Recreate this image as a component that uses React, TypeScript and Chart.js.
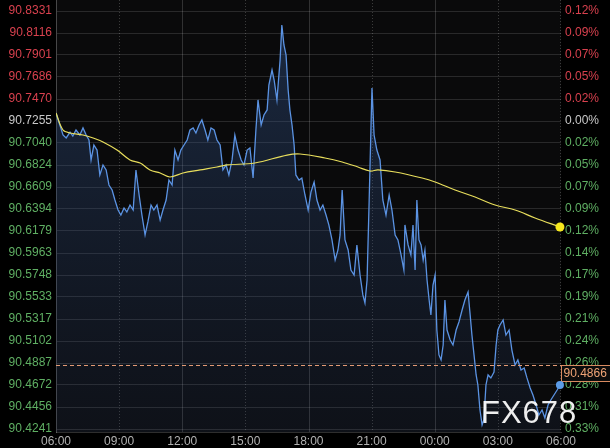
import { useEffect, useRef } from 'react';
import { Chart, registerables } from 'chart.js';

Chart.register(...registerables);

const xTickMinutes = [0, 180, 360, 540, 720, 900, 1080, 1260, 1440];
const xTickLabels = ['06:00', '09:00', '12:00', '15:00', '18:00', '21:00', '00:00', '03:00', '06:00'];

const priceTicks = [90.8331, 90.8116, 90.7901, 90.7686, 90.747, 90.7255, 90.704, 90.6824, 90.6609, 90.6394, 90.6179, 90.5963, 90.5748, 90.5533, 90.5317, 90.5102, 90.4887, 90.4672, 90.4456, 90.4241];
const priceTickLabels = ['90.8331', '90.8116', '90.7901', '90.7686', '90.7470', '90.7255', '90.7040', '90.6824', '90.6609', '90.6394', '90.6179', '90.5963', '90.5748', '90.5533', '90.5317', '90.5102', '90.4887', '90.4672', '90.4456', '90.4241'];
const pctTickLabels = ['0.12%', '0.09%', '0.07%', '0.05%', '0.02%', '0.00%', '0.02%', '0.05%', '0.07%', '0.09%', '0.12%', '0.14%', '0.17%', '0.19%', '0.21%', '0.24%', '0.26%', '0.28%', '0.31%', '0.33%'];

const refPrice = 90.7255;
const lastPrice = 90.4866;
const lastPriceLabel = '90.4866';
const priceMin = 90.4212;
const priceMax = 90.8439;

// minutes since 06:00
const times = [0, 11, 20, 29, 40, 48, 57, 68, 77, 86, 94, 100, 108, 117, 125, 134, 143, 151, 160, 168, 177, 185, 194, 202, 211, 220, 228, 237, 245, 254, 262, 271, 279, 288, 297, 305, 314, 322, 331, 339, 348, 356, 365, 374, 382, 391, 399, 408, 416, 425, 433, 442, 451, 459, 468, 476, 485, 493, 502, 510, 519, 528, 536, 545, 553, 562, 570, 576, 585, 593, 602, 607, 616, 622, 630, 639, 644, 650, 656, 662, 667, 673, 679, 684, 693, 701, 710, 719, 727, 736, 744, 753, 761, 770, 778, 787, 796, 804, 810, 816, 824, 833, 841, 850, 858, 867, 875, 881, 887, 893, 898, 901, 907, 915, 924, 932, 941, 950, 958, 967, 975, 984, 992, 995, 1004, 1012, 1018, 1024, 1029, 1035, 1041, 1047, 1052, 1058, 1064, 1069, 1075, 1081, 1086, 1092, 1098, 1104, 1109, 1115, 1124, 1132, 1141, 1149, 1158, 1166, 1175, 1181, 1186, 1192, 1198, 1203, 1209, 1215, 1220, 1226, 1232, 1240, 1249, 1255, 1260, 1266, 1275, 1283, 1292, 1300, 1309, 1317, 1326, 1335, 1343, 1352, 1360, 1369, 1377, 1386, 1394, 1403, 1411, 1420, 1429, 1437];
const prices = [90.7333, 90.7216, 90.7118, 90.7089, 90.7147, 90.7108, 90.7167, 90.7118, 90.7187, 90.7118, 90.7069, 90.6874, 90.702, 90.6971, 90.6727, 90.6825, 90.6776, 90.6629, 90.658, 90.6482, 90.6384, 90.6335, 90.6404, 90.6365, 90.6433, 90.6384, 90.6776, 90.6531, 90.6335, 90.614, 90.6267, 90.6433, 90.6384, 90.6433, 90.6286, 90.6384, 90.6482, 90.6678, 90.6629, 90.6971, 90.6874, 90.6971, 90.702, 90.7069, 90.7167, 90.7187, 90.7138, 90.7216, 90.7265, 90.7167, 90.7069, 90.7187, 90.7167, 90.7069, 90.702, 90.6776, 90.6825, 90.6727, 90.6874, 90.7118, 90.6971, 90.6874, 90.6825, 90.6971, 90.6991, 90.6697, 90.7167, 90.7461, 90.7216, 90.7314, 90.7363, 90.7607, 90.7754, 90.7656, 90.7461, 90.7852, 90.8194, 90.7999, 90.7901, 90.7558, 90.7363, 90.7216, 90.702, 90.6727, 90.6678, 90.6697, 90.6531, 90.6384, 90.656, 90.6658, 90.6482, 90.6384, 90.6433, 90.6335, 90.6238, 90.6091, 90.5895, 90.5993, 90.614, 90.658, 90.6091, 90.5993, 90.5797, 90.5748, 90.6042, 90.5748, 90.5553, 90.5474, 90.5699, 90.6482, 90.7167, 90.7578, 90.7118, 90.6971, 90.6874, 90.6482, 90.6335, 90.6531, 90.6384, 90.614, 90.6091, 90.5944, 90.5797, 90.6238, 90.6042, 90.5944, 90.6238, 90.5797, 90.6482, 90.6091, 90.6042, 90.5895, 90.5993, 90.5699, 90.5504, 90.5357, 90.565, 90.5748, 90.521, 90.4966, 90.4917, 90.5063, 90.5504, 90.521, 90.5112, 90.5063, 90.521, 90.5288, 90.5406, 90.5504, 90.5582, 90.5357, 90.5161, 90.4966, 90.477, 90.4672, 90.4427, 90.4281, 90.433, 90.4672, 90.477, 90.4741, 90.4799, 90.5063, 90.521, 90.5259, 90.5308, 90.5161, 90.521, 90.5014, 90.4868, 90.4917, 90.4819, 90.4838, 90.4741, 90.4643, 90.4574, 90.4476, 90.4378, 90.4427, 90.4349, 90.4476, 90.4525, 90.4574, 90.4623, 90.4672];

const maTimes = [0, 20, 40, 77, 106, 134, 174, 211, 240, 268, 297, 325, 362, 411, 459, 488, 567, 659, 696, 767, 816, 861, 895, 918, 967, 1044, 1081, 1138, 1195, 1252, 1309, 1366, 1437];
const maPrices = [90.7333, 90.7167, 90.7138, 90.7118, 90.7089, 90.705, 90.6971, 90.6874, 90.6844, 90.6776, 90.6746, 90.6707, 90.6746, 90.6776, 90.6805, 90.6825, 90.6844, 90.6922, 90.6932, 90.6893, 90.6854, 90.6805, 90.6766, 90.6776, 90.6756, 90.6697, 90.6658, 90.658, 90.6511, 90.6433, 90.6384, 90.6306, 90.6218];

const solidGridMinutes = [360, 720, 1080];
const dottedGridMinutes = [180, 540, 900, 1260, 1440];

const FONT = '"Liberation Sans", Arial, sans-serif';

function tickColor(v: number): string {
  if (Math.abs(v - refPrice) < 1e-6) return '#c8c8c8';
  return v > refPrice ? '#d8414e' : '#5faf63';
}

export default function App() {
  const ref = useRef<HTMLCanvasElement>(null);

  useEffect(() => {
    document.body.style.margin = '0';
    document.body.style.background = '#000';
    const canvas = ref.current;
    if (!canvas) return;

    const bluePts = times.map((t, i) => ({ x: t, y: prices[i] }));
    const maPts = maTimes.map((t, i) => ({ x: t, y: maPrices[i] }));

    const overlay = {
      id: 'overlay',
      beforeDraw(chart: any) {
        const { ctx, chartArea: a } = chart;
        ctx.save();
        ctx.fillStyle = '#000';
        ctx.fillRect(0, 0, chart.width, chart.height);
        ctx.fillStyle = '#0a0a0b';
        ctx.fillRect(a.left, a.top, a.right - a.left, a.bottom - a.top);
        ctx.restore();
      },
      beforeDatasetsDraw(chart: any) {
        const { ctx, chartArea: a } = chart;
        const xs = chart.scales.x;
        ctx.save();
        ctx.lineWidth = 1;
        ctx.strokeStyle = 'rgba(255,255,255,0.16)';
        solidGridMinutes.forEach((m) => {
          const px = Math.round(xs.getPixelForValue(m)) + 0.5;
          ctx.beginPath();
          ctx.moveTo(px, a.top);
          ctx.lineTo(px, a.bottom);
          ctx.stroke();
        });
        ctx.setLineDash([1, 2]);
        ctx.strokeStyle = 'rgba(255,255,255,0.2)';
        dottedGridMinutes.forEach((m) => {
          const px = Math.round(xs.getPixelForValue(m)) - (m === 1440 ? 0.5 : -0.5);
          ctx.beginPath();
          ctx.moveTo(px, a.top);
          ctx.lineTo(px, a.bottom);
          ctx.stroke();
        });
        ctx.restore();
      },
      afterDatasetsDraw(chart: any) {
        const { ctx, chartArea: a } = chart;
        const ys = chart.scales.y;
        const py = Math.round(ys.getPixelForValue(lastPrice)) + 0.5;
        ctx.save();
        ctx.strokeStyle = '#e39a74';
        ctx.lineWidth = 1;
        ctx.setLineDash([4, 3]);
        ctx.beginPath();
        ctx.moveTo(a.left, py);
        ctx.lineTo(a.right, py);
        ctx.stroke();
        ctx.restore();
      },
      afterDraw(chart: any) {
        const { ctx, chartArea: a } = chart;
        const ys = chart.scales.y;
        const py = Math.round(ys.getPixelForValue(lastPrice)) + 0.5;
        ctx.save();
        ctx.fillStyle = '#0c0c0c';
        ctx.fillRect(a.right + 0.5, py, chart.width - a.right, 16);
        ctx.strokeStyle = '#d98a60';
        ctx.lineWidth = 1;
        ctx.strokeRect(a.right + 0.5, py, chart.width - a.right + 2, 16);
        ctx.fillStyle = '#f0a476';
        ctx.font = '12px ' + FONT;
        ctx.textBaseline = 'middle';
        ctx.textAlign = 'left';
        ctx.fillText(lastPriceLabel, a.right + 2.5, py + 8.5);
        // end markers drawn on top, unclipped
        const xs = chart.scales.x;
        const lastBlueX = xs.getPixelForValue(times[times.length - 1]);
        const lastBlueY = ys.getPixelForValue(prices[prices.length - 1]);
        ctx.fillStyle = '#5b9be6';
        ctx.beginPath();
        ctx.arc(lastBlueX, lastBlueY, 4, 0, Math.PI * 2);
        ctx.fill();
        const lastMaX = xs.getPixelForValue(maTimes[maTimes.length - 1]);
        const lastMaY = ys.getPixelForValue(maPrices[maPrices.length - 1]);
        ctx.fillStyle = '#f6e81c';
        ctx.beginPath();
        ctx.arc(lastMaX, lastMaY, 4.5, 0, Math.PI * 2);
        ctx.fill();
        // watermark
        ctx.font = '31px ' + FONT;
        (ctx as any).letterSpacing = '1px';
        ctx.fillStyle = 'rgba(255,255,255,0.93)';
        ctx.textBaseline = 'alphabetic';
        ctx.fillText('FX678', 481, 423);
        ctx.restore();
      },
    };

    const chart = new Chart(canvas, {
      type: 'line',
      data: {
        datasets: [
          {
            label: 'MA',
            data: maPts,
            borderColor: '#e8de5c',
            borderWidth: 1.2,
            tension: 0.35,
            fill: false,
            pointRadius: 0,
          },
          {
            label: 'Price',
            data: bluePts,
            borderColor: '#5b93e3',
            borderWidth: 1.3,
            tension: 0,
            fill: 'start',
            backgroundColor: (c: any) => {
              const a = c.chart.chartArea;
              if (!a) return 'rgba(30,50,90,0.3)';
              const g = c.chart.ctx.createLinearGradient(0, a.top, 0, a.bottom);
              g.addColorStop(0, 'rgba(52,88,145,0.42)');
              g.addColorStop(1, 'rgba(40,62,105,0.14)');
              return g;
            },
            pointRadius: 0,
          },
        ],
      },
      options: {
        responsive: false,
        animation: false,
        devicePixelRatio: 1,
        layout: { padding: 0 },
        plugins: { legend: { display: false }, tooltip: { enabled: false } },
        scales: {
          x: {
            type: 'linear',
            min: 0,
            max: 1440,
            afterBuildTicks: (s: any) => {
              s.ticks = xTickMinutes.map((v) => ({ value: v }));
            },
            afterFit: (s: any) => {
              s.height = 16;
              s.paddingLeft = 0;
              s.paddingRight = 0;
            },
            ticks: {
              autoSkip: false,
              maxRotation: 0,
              padding: 2,
              color: '#b2b2b2',
              font: { family: FONT, size: 12 },
              callback: (_v: any, i: number) => xTickLabels[i],
            },
            grid: { display: false, drawTicks: false },
            border: { display: true, color: 'rgba(255,255,255,0.18)' },
          },
          y: {
            type: 'linear',
            position: 'left',
            min: priceMin,
            max: priceMax,
            afterBuildTicks: (s: any) => {
              s.ticks = priceTicks.map((v) => ({ value: v }));
            },
            afterFit: (s: any) => {
              s.width = 56;
              s.paddingTop = 0;
              s.paddingBottom = 0;
            },
            ticks: {
              autoSkip: false,
              padding: 4,
              color: (c: any) => tickColor(c.tick.value),
              font: { family: FONT, size: 12 },
              callback: (_v: any, i: number) => priceTickLabels[i],
            },
            grid: { color: 'rgba(255,255,255,0.13)', lineWidth: 1, drawTicks: false },
            border: { display: true, color: 'rgba(255,255,255,0.25)' },
          },
          y2: {
            type: 'linear',
            position: 'right',
            min: priceMin,
            max: priceMax,
            afterBuildTicks: (s: any) => {
              s.ticks = priceTicks.map((v) => ({ value: v }));
            },
            afterFit: (s: any) => {
              s.width = 49;
              s.paddingTop = 0;
              s.paddingBottom = 0;
            },
            ticks: {
              autoSkip: false,
              padding: 4,
              color: (c: any) => tickColor(c.tick.value),
              font: { family: FONT, size: 12 },
              callback: (_v: any, i: number) => pctTickLabels[i],
            },
            grid: { display: false, drawTicks: false },
            border: { display: false },
          },
        },
      },
      plugins: [overlay],
    } as any);

    return () => chart.destroy();
  }, []);

  return <canvas ref={ref} width={610} height={448} style={{ display: 'block', width: 610, height: 448 }} />;
}
